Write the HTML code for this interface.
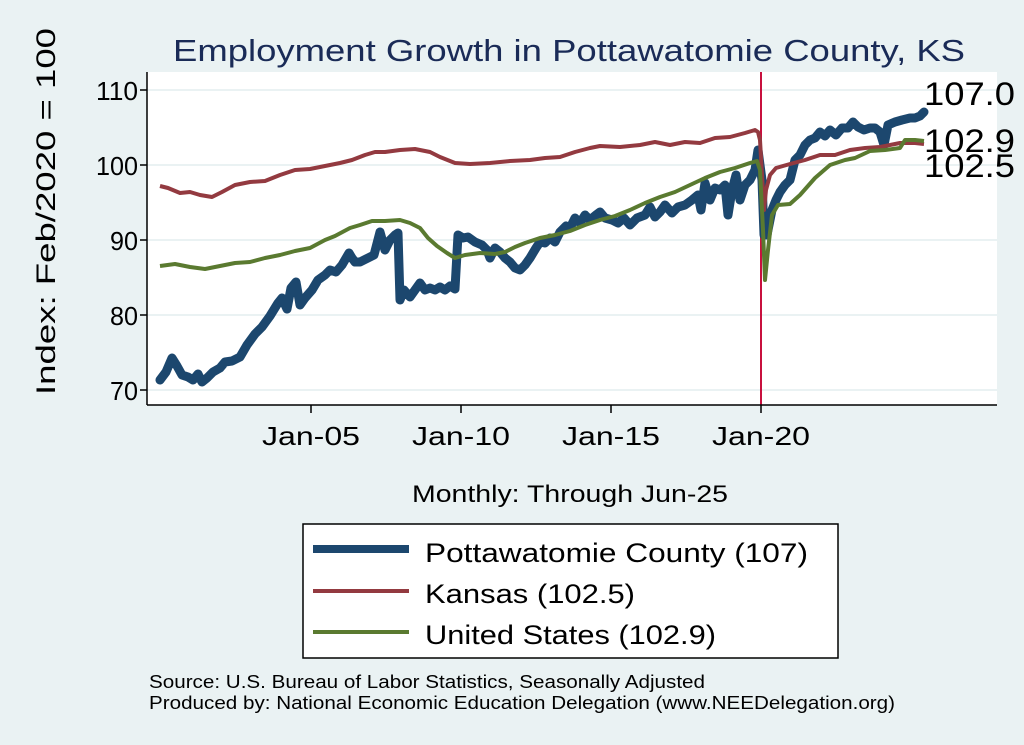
<!DOCTYPE html>
<html><head><meta charset="utf-8"><style>
html,body{margin:0;padding:0;background:#eaf2f3;}
svg{display:block;font-family:"Liberation Sans",sans-serif;}
</style></head><body>
<svg width="1024" height="745" viewBox="0 0 1024 745" xmlns="http://www.w3.org/2000/svg">
<rect width="1024" height="745" fill="#eaf2f3"/>
<rect x="147" y="72" width="850" height="333" fill="#fff"/>
<g stroke="#eaf2f3" stroke-width="2">
<line x1="147" x2="997" y1="90" y2="90"/><line x1="147" x2="997" y1="165" y2="165"/>
<line x1="147" x2="997" y1="240" y2="240"/><line x1="147" x2="997" y1="315" y2="315"/>
<line x1="147" x2="997" y1="390" y2="390"/>
</g>
<text x="173" y="61" font-size="31" fill="#1a2b57" textLength="792" lengthAdjust="spacingAndGlyphs">Employment Growth in Pottawatomie  County, KS</text>
<line x1="761" y1="72" x2="761" y2="405" stroke="#c8103e" stroke-width="2"/>
<g stroke="#000" stroke-width="1.5">
<line x1="147" y1="72" x2="147" y2="405"/><line x1="147" y1="405" x2="997" y2="405"/>
<line x1="140" x2="147" y1="90" y2="90"/><line x1="140" x2="147" y1="165" y2="165"/><line x1="140" x2="147" y1="240" y2="240"/><line x1="140" x2="147" y1="315" y2="315"/><line x1="140" x2="147" y1="390" y2="390"/>
<line x1="311" x2="311" y1="405" y2="413"/><line x1="461" x2="461" y1="405" y2="413"/><line x1="611" x2="611" y1="405" y2="413"/><line x1="761" x2="761" y1="405" y2="413"/>
</g>
<g font-size="26" fill="#000">
<text x="96" y="100" textLength="42" lengthAdjust="spacingAndGlyphs">110</text>
<text x="96" y="175" textLength="42" lengthAdjust="spacingAndGlyphs">100</text>
<text x="110" y="250" textLength="28" lengthAdjust="spacingAndGlyphs">90</text>
<text x="110" y="325" textLength="28" lengthAdjust="spacingAndGlyphs">80</text>
<text x="110" y="400" textLength="28" lengthAdjust="spacingAndGlyphs">70</text>
</g>
<g font-size="26" fill="#000">
<text x="262" y="445" textLength="98" lengthAdjust="spacingAndGlyphs">Jan-05</text>
<text x="412" y="445" textLength="98" lengthAdjust="spacingAndGlyphs">Jan-10</text>
<text x="562" y="445" textLength="98" lengthAdjust="spacingAndGlyphs">Jan-15</text>
<text x="712" y="445" textLength="98" lengthAdjust="spacingAndGlyphs">Jan-20</text>
<text x="412" y="502" font-size="24" textLength="316" lengthAdjust="spacingAndGlyphs">Monthly: Through Jun-25</text>
</g>
<text transform="translate(55,395) rotate(-90)" font-size="27" textLength="367" lengthAdjust="spacingAndGlyphs">Index: Feb/2020 = 100</text>
<polyline fill="none" stroke="#1c476e" stroke-width="9" stroke-linejoin="round" stroke-linecap="round" points="160,380 166,372 172,358 177,366 182,375 188,377 193,380 198,374 202,382 207,378 213,372 220,368 225,362 232,361 240,357 247,345 255,334 262,327 270,316 278,303 282,298 287,309 291,288 296,282 300,305 305,298 312,290 318,280 325,275 330,270 336,272 342,265 349,253 352,258 355,262 360,262 368,258 374,255 380,232 385,250 390,240 395,235 398,233 400,300 404,290 410,297 415,290 420,283 425,290 430,288 435,290 440,287 445,290 450,286 455,289 458,235 463,238 468,237 475,242 482,245 487,250 490,258 495,248 500,252 505,258 510,262 515,268 520,270 525,265 530,258 536,248 540,242 545,243 550,238 555,242 560,232 566,226 570,228 575,218 580,223 585,215 590,220 596,215 600,212 605,218 612,220 618,223 624,218 630,225 637,218 645,215 650,207 655,217 660,212 665,205 672,213 678,207 685,205 692,200 698,195 701,210 705,183 710,200 715,188 720,190 725,185 728,215 732,190 736,175 740,200 745,185 750,180 755,170 758,150 762,180 764,235 767,235 772,210 776,200 780,192 785,185 790,180 795,160 800,155 805,145 810,140 815,138 820,132 825,136 830,130 836,135 842,128 848,128 853,122 858,127 864,130 870,128 875,128 880,132 884,145 888,125 895,122 902,120 910,118 915,118 920,116 924,112"/>
<polyline fill="none" stroke="#933a40" stroke-width="4" stroke-linejoin="round" points="160,186 168,188 180,193 190,192 200,195 212,197 222,192 235,185 250,182 265,181 280,175 295,170 310,169 325,166 340,163 352,160 365,155 375,152 385,152 400,150 415,149 430,152 440,157 455,163 470,164 490,163 510,161 530,160 545,158 560,157 575,152 590,148 600,146 620,147 640,145 655,142 670,145 685,142 700,143 715,138 730,137 745,133 755,130 758,132 760,140 762,175 764,210 766,190 770,175 776,168 790,164 805,160 820,155 835,155 850,150 865,148 880,147 900,143 915,143 924,144"/>
<polyline fill="none" stroke="#5a7a30" stroke-width="4" stroke-linejoin="round" points="160,266 175,264 190,267 205,269 220,266 235,263 250,262 265,258 280,255 295,251 310,248 325,240 335,236 350,228 360,225 372,221 385,221 400,220 410,223 420,228 428,238 437,246 447,253 455,258 465,255 480,253 495,254 505,252 515,247 525,243 540,238 555,235 570,231 585,225 600,220 615,216 630,210 645,203 660,197 675,192 690,185 705,178 720,172 735,168 750,163 757,161 760,170 763,230 765,280 768,250 772,215 778,205 790,204 800,195 815,178 830,165 845,160 855,158 870,151 885,150 900,148 905,140 915,140 924,141"/>
<g font-size="32" fill="#000">
<text x="924" y="105" textLength="91" lengthAdjust="spacingAndGlyphs">107.0</text>
<text x="924" y="152" textLength="91" lengthAdjust="spacingAndGlyphs">102.9</text>
<text x="924" y="177" textLength="91" lengthAdjust="spacingAndGlyphs">102.5</text>
</g>
<rect x="303" y="524" width="535" height="134" fill="#fff" stroke="#000" stroke-width="1.5"/>
<line x1="313" x2="409" y1="549" y2="549" stroke="#1c476e" stroke-width="8"/>
<line x1="313" x2="409" y1="591" y2="591" stroke="#933a40" stroke-width="4"/>
<line x1="313" x2="409" y1="632" y2="632" stroke="#5a7a30" stroke-width="4"/>
<g font-size="27" fill="#000">
<text x="425" y="562" textLength="383" lengthAdjust="spacingAndGlyphs">Pottawatomie  County (107)</text>
<text x="425" y="603" textLength="210" lengthAdjust="spacingAndGlyphs">Kansas (102.5)</text>
<text x="425" y="644" textLength="291" lengthAdjust="spacingAndGlyphs">United States (102.9)</text>
</g>
<g font-size="18" fill="#000">
<text x="149" y="688" textLength="556" lengthAdjust="spacingAndGlyphs">Source: U.S. Bureau of Labor Statistics, Seasonally Adjusted</text>
<text x="149" y="709" textLength="746" lengthAdjust="spacingAndGlyphs">Produced by: National Economic Education Delegation (www.NEEDelegation.org)</text>
</g>
</svg>
</body></html>
